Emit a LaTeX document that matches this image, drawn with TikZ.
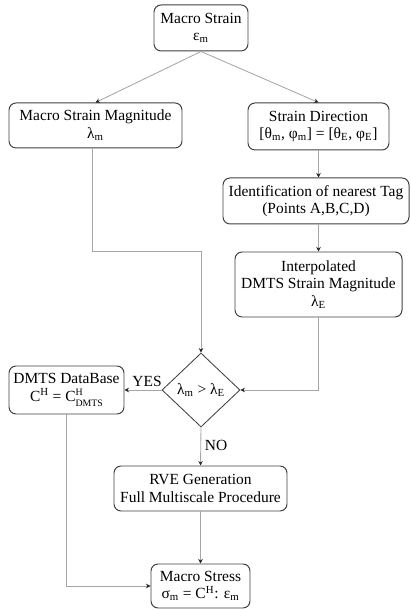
\documentclass[tikz,border=0pt]{standalone}
\usepackage{fontspec}
\setmainfont{Liberation Serif}
\usepackage{tikz}
\usetikzlibrary{shapes.geometric,arrows.meta}
\definecolor{c1}{HTML}{404040}
\definecolor{c2}{HTML}{A6A6A6}
\definecolor{c3}{HTML}{262626}

\tikzset{
  box/.style={draw=c1, line width=0.7pt, rounded corners=5pt, fill=white, align=center,
    inner sep=1pt, font=\fontsize{11}{12.4}\selectfont},
  decbox/.style={draw=c1, line width=0.6pt, shape=diamond, inner sep=0pt, fill=white,
    font=\fontsize{11}{12.4}\selectfont},
  link/.style={draw=c2, line width=0.6pt, -{Stealth[length=3.2pt,width=3.2pt,color=c3]}},
  lbl/.style={font=\fontsize{11}{12.4}\selectfont, inner sep=0pt}
}

\begin{document}
\begin{tikzpicture}
  \useasboundingbox (0,0) rectangle (10.25,15.25);
  % Input
  \node[box, minimum width=2.35cm, minimum height=1.15cm] (strain) at (5.025,14.55)
    {Macro Strain\\ ε\textsubscript{m}};
  % Two branches
  \node[box, minimum width=4.325cm, minimum height=1.125cm] (mag) at (2.3875,12.1125)
    {Macro Strain Magnitude\\ λ\textsubscript{m}};
  \node[box, minimum width=3.525cm, minimum height=1.175cm] (dir) at (7.9625,12.0875)
    {Strain Direction\\ {[θ\textsubscript{m}, φ\textsubscript{m}] = [θ\textsubscript{E}, φ\textsubscript{E}]}};
  \node[box, minimum width=4.65cm, minimum height=1.15cm] (ident) at (7.9,10.225)
    {Identification of nearest Tag\\ (Points A,B,C,D)};
  \node[box, minimum width=4.175cm, minimum height=1.625cm] (interp) at (7.9625,8.1375)
    {Interpolated\\ DMTS Strain Magnitude\\ λ\textsubscript{E}};
  % Decision
  \node[decbox, minimum width=1.95cm, minimum height=1.85cm] (dec) at (5.025,5.5)
    {λ\textsubscript{m} > λ\textsubscript{E}};
  \node[box, minimum width=2.875cm, minimum height=1.2cm] (db) at (1.6625,5.5)
    {DMTS DataBase\\ C\textsuperscript{H} = C\rlap{\raisebox{0.75ex}{\fontsize{7}{7}\selectfont H}}\raisebox{-0.75ex}{\fontsize{7}{7}\selectfont DMTS}};
  \node[box, minimum width=4.325cm, minimum height=1.125cm] (rve) at (5.0125,3.0375)
    {RVE Generation\\ Full Multiscale Procedure};
  % Output
  \node[box, minimum width=2.475cm, minimum height=1.1cm] (stress) at (5.0125,0.6)
    {Macro Stress\\ σ\textsubscript{m} = C\textsuperscript{H}: ε\textsubscript{m}};
  \node[lbl] (yes) at (3.675,5.725) {YES};
  \node[lbl] (no) at (5.4,4.125) {NO};
  \coordinate (magbend) at (2.3,8.975);
  % Connectors
  \draw[link] (strain.south) -- (mag.north);
  \draw[link] (strain.south) -- (dir.north);
  \draw[link] (dir.south) -- (dir.south |- ident.north);
  \draw[link] (dir.south |- ident.south) -- (dir.south |- interp.north);
  \draw[link] (mag.south -| magbend) -- (magbend) -| (dec.north);
  \draw[link] (interp.south) |- (dec.east);
  \draw[link] (dec.west) -- (db.east);
  \draw[link] (dec.south) -- (rve.north);
  \draw[link] (rve.south) -- (stress.north);
  \draw[link] (db.south) |- (stress.west);
\end{tikzpicture}
\end{document}
